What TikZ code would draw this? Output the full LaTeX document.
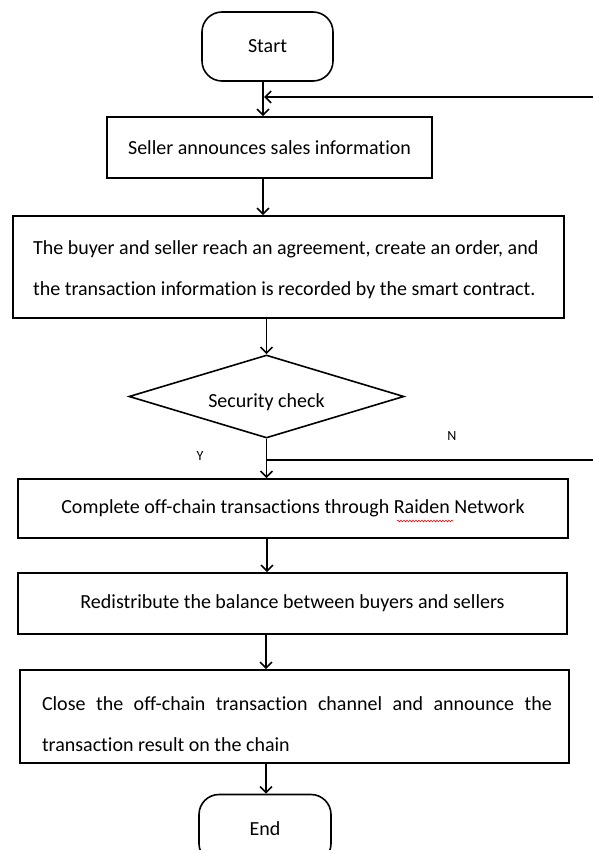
\documentclass[tikz,border=0pt]{standalone}
\usepackage{fontspec}
\setmainfont{Carlito}[Ligatures=NoCommon]
\usetikzlibrary{shapes.geometric,arrows.meta,decorations.pathmorphing,calc}
\begin{document}
\begin{tikzpicture}[x=1pt,y=-1pt,
  every node/.style={font=\fontsize{20}{41}\selectfont},
  box/.style={draw,line width=1.6pt,inner sep=0pt,align=center},
  term/.style={draw,line width=1.6pt,rounded corners=20pt,minimum width=131pt,minimum height=69pt,inner sep=0pt},
  decision/.style={draw,diamond,line width=1.6pt,aspect=3.3,inner sep=0pt,minimum width=275pt,minimum height=83pt},
  arr/.style={line width=1.6pt,-{Straight Barb[length=6pt,width=12pt,line width=1.6pt]}},
  lbl/.style={font=\fontsize{14}{16}\selectfont}
]
\useasboundingbox (0,0) rectangle (593,850);
\clip (0,0) rectangle (593,850);
\fill[white] (0,0) rectangle (593,850);

\node[term] (start) at (267.5,46.5) {Start};
\node[box,minimum width=325pt,minimum height=61pt] (seller) at (269.5,147.5) {Seller announces sales information};
\node[box,minimum width=551pt,minimum height=102pt] (agree) at (288.5,267) {};
\node[align=left,anchor=west,inner sep=0pt] (agreetxt) at (33,269.5)
  {The buyer and seller reach an agreement, create an order, and\\the transaction information is recorded by the smart contract.};
\node[decision] (check) at (266.5,396.5) {};
\node (checktxt) at (266.5,402) {Security check};
\node[box,minimum width=550pt,minimum height=59pt] (offchain) at (293,508.5) {Complete off-chain transactions through Raiden Network};
\node[box,minimum width=549pt,minimum height=61pt] (redis) at (292.5,603.5) {Redistribute the balance between buyers and sellers};
\node[box,minimum width=549pt,minimum height=93pt] (close) at (294.5,716.5) {};
\node[text width=510pt,align=justify,inner sep=0pt] (closetxt) at (297,724)
  {Close the off-chain transaction channel and announce the\linebreak transaction result on the chain};
\node[term,minimum width=132pt] (end) at (265,829) {End};

\node[lbl] (ylab) at (200,456) {Y};
\node[lbl] (nlab) at (452,436) {N};

% spell-check underline
\draw[red,line width=0.6pt,decorate,decoration={snake,amplitude=0.8pt,segment length=3pt}] (397,521) -- (453,521);

% main flow
\coordinate (c1) at (263,0);
\draw[arr] (c1 |- start.south) -- (c1 |- seller.north);
\draw[arr] (c1 |- seller.south) -- (c1 |- agree.north);
\draw[arr] (check.north |- agree.south) -- (check.north);
\draw[arr] (check.south) -- (check.south |- offchain.north);
\coordinate (c3) at (267,0);
\draw[arr] (c3 |- offchain.south) -- (c3 |- redis.north);
\coordinate (c4) at (266,0);
\draw[arr] (c4 |- redis.south) -- (c4 |- close.north);
\draw[arr] (c4 |- close.south) -- (c4 |- end.north);

% N loop back
\coordinate (nb) at ($(check.south)+(0,21)$);
\coordinate (fb) at (264,97);
\coordinate (far) at (640,0);
\draw[arr] (nb) -- (far |- nb) -- (far |- fb) -- (fb);
\end{tikzpicture}
\end{document}
